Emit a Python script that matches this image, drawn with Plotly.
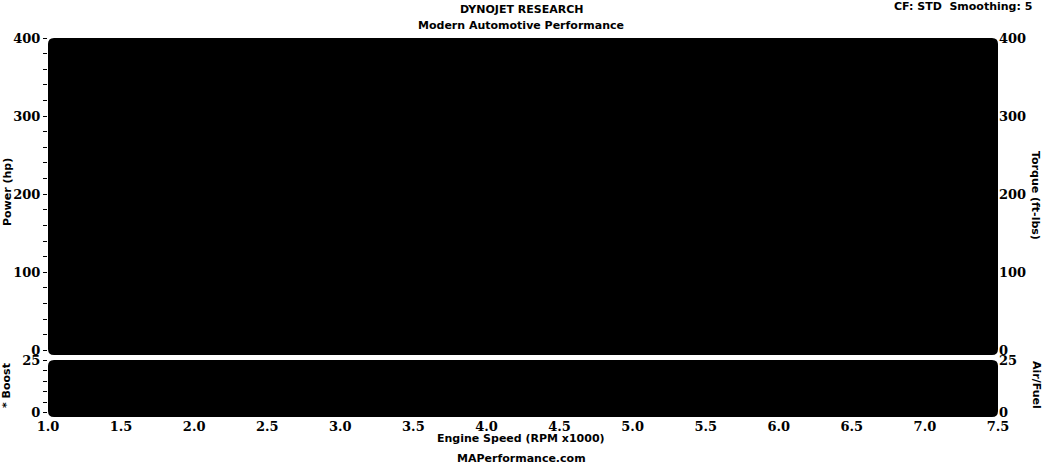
import plotly.graph_objects as go

# ---- data (no curves are visible in the reference; plot areas are empty) ----
rpm_x1000 = []
power_hp = []
torque_ftlbs = []
boost = []
air_fuel = []

rpm_tick_vals = [1.0, 1.5, 2.0, 2.5, 3.0, 3.5, 4.0, 4.5, 5.0, 5.5, 6.0, 6.5, 7.0, 7.5]
rpm_tick_text = ["1.0", "1.5", "2.0", "2.5", "3.0", "3.5", "4.0", "4.5", "5.0", "5.5", "6.0", "6.5", "7.0", "7.5"]
power_tick_vals = [0, 100, 200, 300, 400]
torque_tick_vals = [0, 100, 200, 300, 400]
boost_tick_vals = [0, 25]
afr_tick_vals = [0, 25]

W, H = 1043, 465
def px(x):
    return x / W
def py(y):
    return 1 - y / H

X0, X1 = px(48), px(998)
UP = [py(355), py(38)]
LO = [py(417), py(360)]

TICKFONT = dict(family="DejaVu Serif", size=13, color="black", weight="bold")
LABFONT = dict(family="DejaVu Sans", size=11, color="black", weight="bold")

fig = go.Figure()
fig.add_trace(go.Scatter(x=rpm_x1000, y=power_hp, xaxis="x2", yaxis="y3", mode="lines",
                         line=dict(color="black"), showlegend=False))
fig.add_trace(go.Scatter(x=rpm_x1000, y=torque_ftlbs, xaxis="x2", yaxis="y4", mode="lines",
                         line=dict(color="black"), showlegend=False))
fig.add_trace(go.Scatter(x=rpm_x1000, y=boost, xaxis="x", yaxis="y", mode="lines",
                         line=dict(color="black"), showlegend=False))
fig.add_trace(go.Scatter(x=rpm_x1000, y=air_fuel, xaxis="x", yaxis="y2", mode="lines",
                         line=dict(color="black"), showlegend=False))

def rounded(x0, x1, y0, y1, r=6):
    rx, ry = r / W, r / H
    return (f"M {x0+rx},{y0} L {x1-rx},{y0} Q {x1},{y0} {x1},{y0+ry} "
            f"L {x1},{y1-ry} Q {x1},{y1} {x1-rx},{y1} "
            f"L {x0+rx},{y1} Q {x0},{y1} {x0},{y1-ry} "
            f"L {x0},{y0+ry} Q {x0},{y0} {x0+rx},{y0} Z")

shapes = [
    dict(type="path", xref="paper", yref="paper", path=rounded(X0, X1, UP[0], UP[1]),
         fillcolor="black", line=dict(width=0), layer="below"),
    dict(type="path", xref="paper", yref="paper", path=rounded(X0, X1, LO[0], LO[1]),
         fillcolor="black", line=dict(width=0), layer="below"),
]

annotations = [
    dict(text="DYNOJET RESEARCH", x=px(521), y=py(10)),
    dict(text="Modern Automotive Performance", x=px(521), y=py(26)),
    dict(text="CF: STD  Smoothing: 5", x=px(1034), y=py(7), xanchor="right"),
    dict(text="Power (hp)", x=px(8), y=py(192), textangle=-90),
    dict(text="Torque (ft-lbs)", x=px(1036), y=py(195), textangle=90),
    dict(text="* Boost", x=px(6), y=py(386), textangle=-90),
    dict(text="Air/Fuel", x=px(1037), y=py(385), textangle=90),
    dict(text="Engine Speed (RPM x1000)", x=px(521), y=py(438)),
    dict(text="MAPerformance.com", x=px(521), y=py(458)),
]
for a in annotations:
    a.setdefault("xanchor", "center")
    a.update(xref="paper", yref="paper", yanchor="middle", showarrow=False, font=LABFONT)

fig.update_layout(
    width=W, height=H,
    margin=dict(l=0, r=0, t=0, b=0, autoexpand=False),
    paper_bgcolor="white", plot_bgcolor="white",
    showlegend=False,
    shapes=shapes,
    annotations=annotations,
    xaxis=dict(domain=[X0, X1], range=[1.0, 7.5], anchor="y", automargin=False,
               tickvals=rpm_tick_vals, ticktext=rpm_tick_text, tickfont=TICKFONT,
               ticks="", showgrid=False, zeroline=False, showline=False),
    xaxis2=dict(domain=[X0, X1], range=[1.0, 7.5], anchor="y3", matches="x", automargin=False,
                showticklabels=False, ticks="", showgrid=False, zeroline=False, showline=False),
    yaxis=dict(domain=LO, range=[-2, 25], anchor="x", side="left", automargin=False,
               tickvals=boost_tick_vals, tickfont=TICKFONT, ticks="outside", ticklen=4,
               tickcolor="black", minor=dict(dtick=5, tick0=0, ticks="outside", ticklen=4, tickcolor="black"),
               showgrid=False, zeroline=False, showline=False),
    yaxis2=dict(domain=LO, range=[-2, 25], anchor="x", overlaying="y", side="right", automargin=False,
                tickvals=afr_tick_vals, tickfont=TICKFONT, ticks="",
                showgrid=False, zeroline=False, showline=False),
    yaxis3=dict(domain=UP, range=[-6, 400], anchor="x2", side="left", automargin=False,
                tickvals=power_tick_vals, tickfont=TICKFONT, ticks="outside", ticklen=4,
                tickcolor="black", minor=dict(dtick=20, tick0=0, ticks="outside", ticklen=4, tickcolor="black"),
                showgrid=False, zeroline=False, showline=False),
    yaxis4=dict(domain=UP, range=[-6, 400], anchor="x2", overlaying="y3", side="right", automargin=False,
                tickvals=torque_tick_vals, tickfont=TICKFONT, ticks="",
                showgrid=False, zeroline=False, showline=False),
)

fig.write_html("out.html", config={"displayModeBar": False},
               post_script="document.body.style.margin='0';")
